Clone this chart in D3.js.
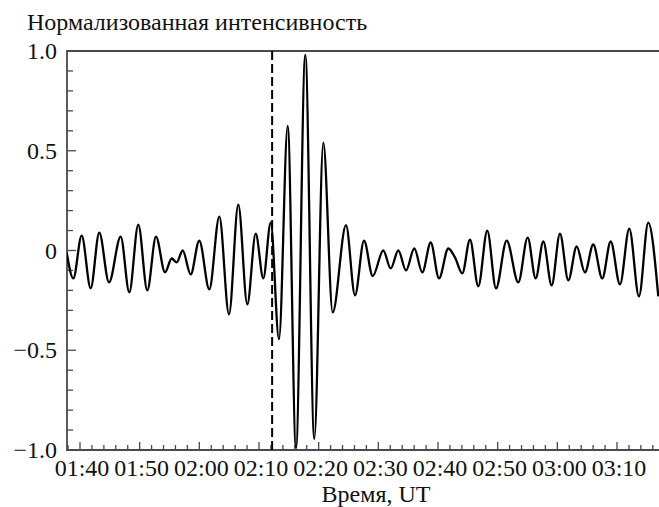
<!DOCTYPE html>
<html>
<head>
<meta charset="utf-8">
<script src="https://cdn.jsdelivr.net/npm/d3@7"></script>
</head>
<body style="margin:0">
<svg id="chart" width="659" height="507"></svg>
<script>
// Time in minutes after 00:00 UT
const times = [97.77, 98.88, 100.28, 101.79, 103.23, 104.86, 106.82, 108.26, 109.77, 111.28,
  112.74, 114.25, 115.37, 116.21, 117.21, 118.55, 119.99, 121.67, 123.35, 124.97,
  126.53, 128.04, 129.45, 130.72, 131.96, 133.35, 134.81, 136.20, 137.76, 139.27,
  140.78, 142.35, 144.58, 146.09, 147.60, 149.06, 150.83, 152.07, 153.35, 154.64,
  156.03, 157.37, 158.78, 160.17, 161.73, 162.85, 164.07, 165.36, 166.75, 168.26,
  169.72, 171.51, 173.46, 175.03, 176.37, 177.65, 179.05, 180.44, 181.84, 183.24,
  184.63, 186.02, 187.53, 188.94, 190.50, 192.06, 193.68, 195.24, 196.92];
const intensity = [-0.01, -0.14, 0.075, -0.19, 0.09, -0.16, 0.07, -0.21, 0.13, -0.20,
  0.07, -0.11, -0.04, -0.06, 0.0, -0.12, 0.05, -0.195, 0.17, -0.32,
  0.23, -0.27, 0.085, -0.14, 0.14, -0.445, 0.625, -0.99, 0.98, -0.945,
  0.54, -0.31, 0.127, -0.225, 0.05, -0.128, 0.0, -0.09, 0.0, -0.10,
  0.01, -0.11, 0.04, -0.14, 0.01, -0.035, -0.115, 0.055, -0.18, 0.10,
  -0.19, 0.05, -0.16, 0.065, -0.14, 0.045, -0.175, 0.085, -0.15, 0.02,
  -0.11, 0.03, -0.14, 0.045, -0.17, 0.11, -0.23, 0.14, -0.23];
const xTickLabels = ["01:40", "01:50", "02:00", "02:10", "02:20", "02:30", "02:40", "02:50", "03:00", "03:10"];
const yTickValues = [1.0, 0.5, 0, -0.5, -1.0];
const yTickLabels = ["1.0", "0.5", "0", "\u22120.5", "\u22121.0"];
const markerTime = 132.2;
const yTitle = "Нормализованная интенсивность";
const xTitle = "Время, UT";

const toMin = s => { const [h, m] = s.split(":").map(Number); return h * 60 + m; };

const FONT = '"Liberation Serif", "Times New Roman", serif';
const FS = 24;
const svg = d3.select("#chart");
const mLeft = 67, mRight = 659, mTop = 51, mBottom = 450;

const x = d3.scaleLinear().domain([100, 190]).range([80, 617]);
const y = d3.scaleLinear().domain([-1, 1]).range([mBottom, mTop]);

const axisColor = "#4a4a4a";

svg.append("defs").append("clipPath").attr("id", "clip")
  .append("rect").attr("x", mLeft).attr("y", mTop - 5).attr("width", mRight - mLeft).attr("height", mBottom - mTop + 10);

// x ticks (inward), every 2 minutes, major every 10
const xMin = x.invert(mLeft), xMax = x.invert(mRight);
const xMinor = d3.range(Math.ceil(xMin / 2) * 2, xMax, 2);
const g = svg.append("g");
g.selectAll(".xt").data(xMinor).join("line")
  .attr("x1", d => x(d)).attr("x2", d => x(d))
  .attr("y1", mBottom).attr("y2", d => mBottom - (d % 10 === 0 ? 8 : 5))
  .attr("stroke", axisColor).attr("stroke-width", 1.3);

// y ticks (inward), every 0.1, major every 0.5
const yMinor = d3.range(-10, 11).map(d => d / 10);
g.selectAll(".yt").data(yMinor).join("line")
  .attr("x1", mLeft).attr("x2", d => mLeft + (Math.round(d * 10) % 5 === 0 ? 9 : 6))
  .attr("y1", d => y(d)).attr("y2", d => y(d))
  .attr("stroke", axisColor).attr("stroke-width", 1.3);

// frame
g.append("path")
  .attr("d", `M${mRight},${mTop}H${mLeft}V${mBottom}H${mRight}`)
  .attr("fill", "none").attr("stroke", axisColor).attr("stroke-width", 1.8);

// dashed marker
svg.append("line")
  .attr("x1", x(markerTime)).attr("x2", x(markerTime))
  .attr("y1", mTop).attr("y2", mBottom)
  .attr("stroke", "#000").attr("stroke-width", 2)
  .attr("stroke-dasharray", "9,4");

// curve
const data = times.map((t, i) => [t, intensity[i]]);
const line = d3.line().x(d => x(d[0])).y(d => y(d[1])).curve(d3.curveMonotoneX);
svg.append("path").datum(data)
  .attr("clip-path", "url(#clip)")
  .attr("d", line)
  .attr("fill", "none").attr("stroke", "#000").attr("stroke-width", 2.3)
  .attr("stroke-linejoin", "round");

// labels
function addText(sel) {
  return sel.style("font-family", FONT).attr("fill", "#111").attr("font-size", FS);
}
addText(svg.selectAll(".xl").data(xTickLabels).join("text"))
  .attr("x", d => x(toMin(d)) + 2).attr("y", 476)
  .attr("text-anchor", "middle")
  .text(d => d);

addText(svg.selectAll(".yl").data(yTickValues).join("text"))
  .attr("x", 57).attr("y", d => y(d) + 8)
  .attr("text-anchor", "end")
  .text((d, i) => yTickLabels[i]);

addText(svg.append("text"))
  .attr("x", 27).attr("y", 30).text(yTitle);
addText(svg.append("text"))
  .attr("x", 376).attr("y", 502).attr("text-anchor", "middle").text(xTitle);
</script>
</body>
</html>
